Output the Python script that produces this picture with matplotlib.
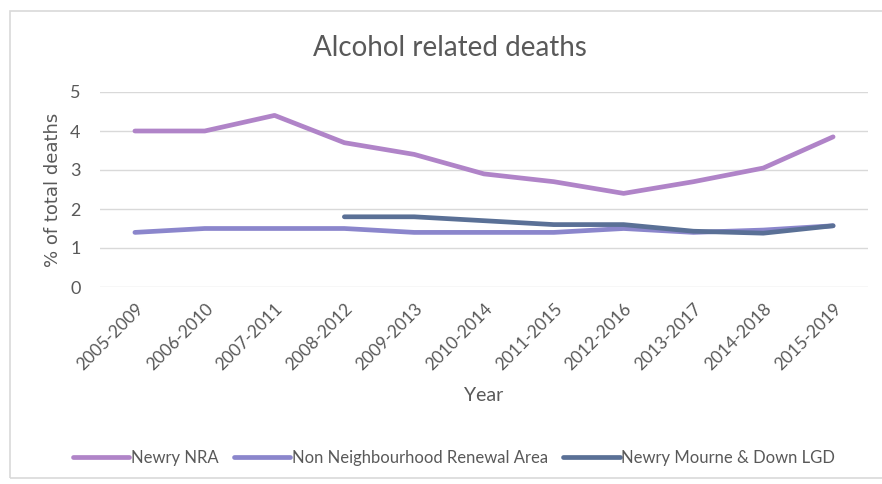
import numpy as np
import matplotlib
matplotlib.use('Agg')
import matplotlib.pyplot as plt
from matplotlib.patches import Rectangle

years = ["2005-2009", "2006-2010", "2007-2011", "2008-2012", "2009-2013", "2010-2014",
         "2011-2015", "2012-2016", "2013-2017", "2014-2018", "2015-2019"]
newry_nra = [4.0, 4.0, 4.4, 3.7, 3.4, 2.9, 2.7, 2.4, 2.7, 3.05, 3.85]
non_nra = [1.4, 1.5, 1.5, 1.5, 1.4, 1.4, 1.4, 1.5, 1.4, 1.46, 1.57]
lgd = [np.nan, np.nan, np.nan, 1.8, 1.8, 1.7, 1.6, 1.6, 1.43, 1.38, 1.57]

plt.rcParams['font.family'] = ['Lato', 'DejaVu Sans']
txt = '#595959'

fig = plt.figure(figsize=(8.82, 4.84), dpi=100)
W, H = 882, 484
# chart border
fig.patches.append(Rectangle((10 / W, 6 / H), 1.0, 1 - 17 / H, transform=fig.transFigure,
                             fill=False, edgecolor='#d9d9d9', linewidth=1.2))
ax = fig.add_axes([100 / W, 1 - 287 / H, 768 / W, 195 / H])

x = np.arange(len(years))
ax.plot(x, newry_nra, color='#b084c8', lw=3.4, solid_capstyle='round', label='Newry NRA')
ax.plot(x, non_nra, color='#8b86cc', lw=3.4, solid_capstyle='round', label='Non Neighbourhood Renewal Area')
ax.plot(x, lgd, color='#5a7096', lw=3.4, solid_capstyle='round', label='Newry Mourne & Down LGD')

ax.set_xlim(-0.5, len(years) - 0.5)
ax.set_ylim(0, 5)
ax.set_yticks(range(6))
ax.grid(axis='y', color='#d9d9d9', lw=1)
ax.set_axisbelow(True)
for s in ax.spines.values():
    s.set_visible(False)
ax.tick_params(length=0, colors=txt, labelsize=12.5)
ax.tick_params(axis='y', pad=14, labelsize=13)
ax.set_xticks(x)
ax.set_xticklabels(years, rotation=45, ha='right', rotation_mode='anchor')
ax.tick_params(axis='x', pad=10)

ax.set_title('Alcohol related deaths', fontsize=20, color=txt, pad=26, x=0.456)
ax.set_xlabel('Year', fontsize=14, color=txt, labelpad=10)
ax.set_ylabel('% of total deaths', fontsize=13, color=txt, family='DejaVu Sans', labelpad=6)

fig.legend(loc='center', bbox_to_anchor=(454 / W, 1 - 458 / H), ncol=3, frameon=False,
           fontsize=12, labelcolor=txt, handlelength=3.4, handletextpad=0.1, columnspacing=0.9)

fig.savefig('out.png', dpi=100)
